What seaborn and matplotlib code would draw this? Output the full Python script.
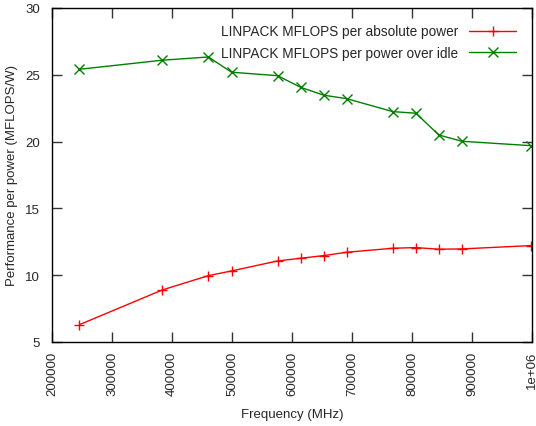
import matplotlib
matplotlib.use("Agg")
import matplotlib.pyplot as plt
import seaborn as sns

# CPU frequencies (kHz values as reported by cpufreq, labelled MHz)
freq = [245760, 384000, 460800, 499200, 576000, 614400, 652800,
        691200, 768000, 806400, 844800, 883200, 998400]
abs_power = [6.29, 8.89, 9.96, 10.31, 11.06, 11.26, 11.46,
             11.71, 12.01, 12.06, 11.94, 11.96, 12.21]
over_idle = [25.41, 26.09, 26.33, 25.19, 24.93, 24.06, 23.47,
             23.21, 22.24, 22.12, 20.49, 20.02, 19.69]
series_names = ["LINPACK MFLOPS per absolute power",
                "LINPACK MFLOPS per power over idle"]
xticks = [200000, 300000, 400000, 500000, 600000, 700000, 800000, 900000, 1000000]
xtick_labels = ["200000", "300000", "400000", "500000", "600000",
                "700000", "800000", "900000", "1e+06"]
yticks = [5, 10, 15, 20, 25, 30]

sns.set_style("white")
plt.rcParams["font.family"] = ["Liberation Sans", "DejaVu Sans"]

fig = plt.figure(figsize=(5.36, 4.27), dpi=100)
ax = fig.add_axes([0.097, 0.197, 0.8955, 0.782])

for values, name, color, marker in [(abs_power, series_names[0], "#ff0000", "+"),
                                    (over_idle, series_names[1], "#008000", "x")]:
    sns.lineplot(x=freq, y=values, color=color, marker=marker,
                 markersize=7.5, markeredgewidth=1.0, markeredgecolor=color,
                 linewidth=1.0, label=name, ax=ax)

ax.set_xlim(200000, 1000000)
ax.set_ylim(5, 30)
ax.set_xticks(xticks)
ax.set_xticklabels(xtick_labels, rotation=90, fontsize=9.5)
ax.set_yticks(yticks)
ax.set_yticklabels([str(v) for v in yticks], fontsize=9.5)
ax.tick_params(direction="in", length=7, width=1, color="#333333",
               top=True, right=True, bottom=True, left=True)
ax.tick_params(axis="x", pad=6.5)
ax.tick_params(axis="y", pad=8.5)
for s in ax.spines.values():
    s.set_visible(True)
    s.set_color("black")
    s.set_linewidth(1.0)

ax.set_xlabel("Frequency (MHz)", fontsize=9.5, labelpad=9)
ax.set_ylabel("Performance per power (MFLOPS/W)", fontsize=9.5, labelpad=5)

leg = ax.legend(loc="upper right", frameon=False, markerfirst=False,
                fontsize=9.8, handlelength=3.4, borderaxespad=0.8,
                labelspacing=0.55, handletextpad=0.8)

fig.savefig("out.png", dpi=100)
